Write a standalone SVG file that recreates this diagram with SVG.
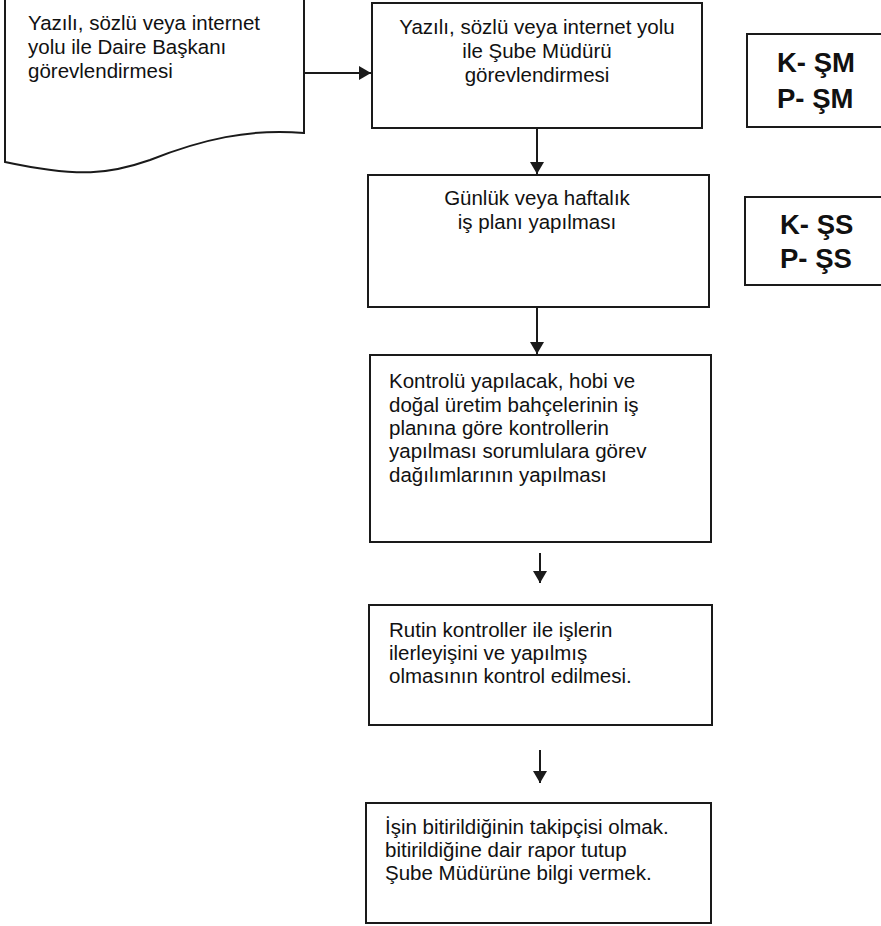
<svg xmlns="http://www.w3.org/2000/svg" width="881" height="926" viewBox="0 0 881 926">
<defs>
<marker id="ah" viewBox="0 0 12 14" refX="12" refY="7" markerWidth="12" markerHeight="14" markerUnits="userSpaceOnUse" orient="auto">
<path d="M0,0 L12,7 L0,14 z" fill="#1a1a1a"/>
</marker>
<style>
.b{fill:#fff;stroke:#1a1a1a;stroke-width:2}
.t{font-family:"Liberation Sans",Arial,sans-serif;font-size:20.5px;fill:#111}
.c{text-anchor:middle}
.k{font-family:"Liberation Sans",Arial,sans-serif;font-size:27.5px;font-weight:bold;fill:#111}
.e{stroke:#1a1a1a;stroke-width:2;fill:none;marker-end:url(#ah)}
</style>
</defs>
<rect width="881" height="926" fill="#fff"/>
<g id="n1">
<path class="b" d="M5,-2 L304,-2 L304,133 C250,128 200,140 150,160 C110,174 80,178 5,162 Z"/>
<text class="t" x="28" y="30">Yazılı, sözlü veya internet</text>
<text class="t" x="28" y="54">yolu ile Daire Başkanı</text>
<text class="t" x="28" y="78">görevlendirmesi</text>
</g>
<g id="n2">
<rect class="b" x="372" y="3" width="330" height="125"/>
<text class="t c" x="537" y="34">Yazılı, sözlü veya internet yolu</text>
<text class="t c" x="537" y="58">ile Şube Müdürü</text>
<text class="t c" x="537" y="82">görevlendirmesi</text>
</g>
<g id="n3">
<rect class="b" x="368" y="175" width="341" height="132"/>
<text class="t c" x="537" y="205">Günlük veya haftalık</text>
<text class="t c" x="537" y="229">iş planı yapılması</text>
</g>
<g id="n4">
<rect class="b" x="370" y="355" width="341" height="187"/>
<text class="t" x="389" y="388">Kontrolü yapılacak, hobi ve</text>
<text class="t" x="389" y="412">doğal üretim bahçelerinin iş</text>
<text class="t" x="389" y="435">planına göre kontrollerin</text>
<text class="t" x="389" y="458">yapılması sorumlulara görev</text>
<text class="t" x="389" y="482">dağılımlarının yapılması</text>
</g>
<g id="n5">
<rect class="b" x="369" y="605" width="343" height="120"/>
<text class="t" x="389" y="637">Rutin kontroller ile işlerin</text>
<text class="t" x="389" y="660">ilerleyişini ve yapılmış</text>
<text class="t" x="389" y="683">olmasının kontrol edilmesi.</text>
</g>
<g id="n6">
<rect class="b" x="366" y="803" width="345" height="120"/>
<text class="t" x="385" y="834">İşin bitirildiğinin takipçisi olmak.</text>
<text class="t" x="385" y="857">bitirildiğine dair rapor tutup</text>
<text class="t" x="385" y="880">Şube Müdürüne bilgi vermek.</text>
</g>
<g id="r1">
<rect class="b" x="747" y="34" width="140" height="93"/>
<text class="k" x="777" y="72">K- ŞM</text>
<text class="k" x="777" y="108">P- ŞM</text>
</g>
<g id="r2">
<rect class="b" x="745" y="197" width="142" height="88"/>
<text class="k" x="780" y="234">K- ŞS</text>
<text class="k" x="780" y="268">P- ŞS</text>
</g>
<g id="edges">
<path class="e" d="M305,73 L371,73"/>
<path class="e" d="M537,128 L537,174"/>
<path class="e" d="M537,307 L537,354"/>
<path class="e" d="M540,553 L540,583"/>
<path class="e" d="M540,750 L540,783"/>
</g>
</svg>
